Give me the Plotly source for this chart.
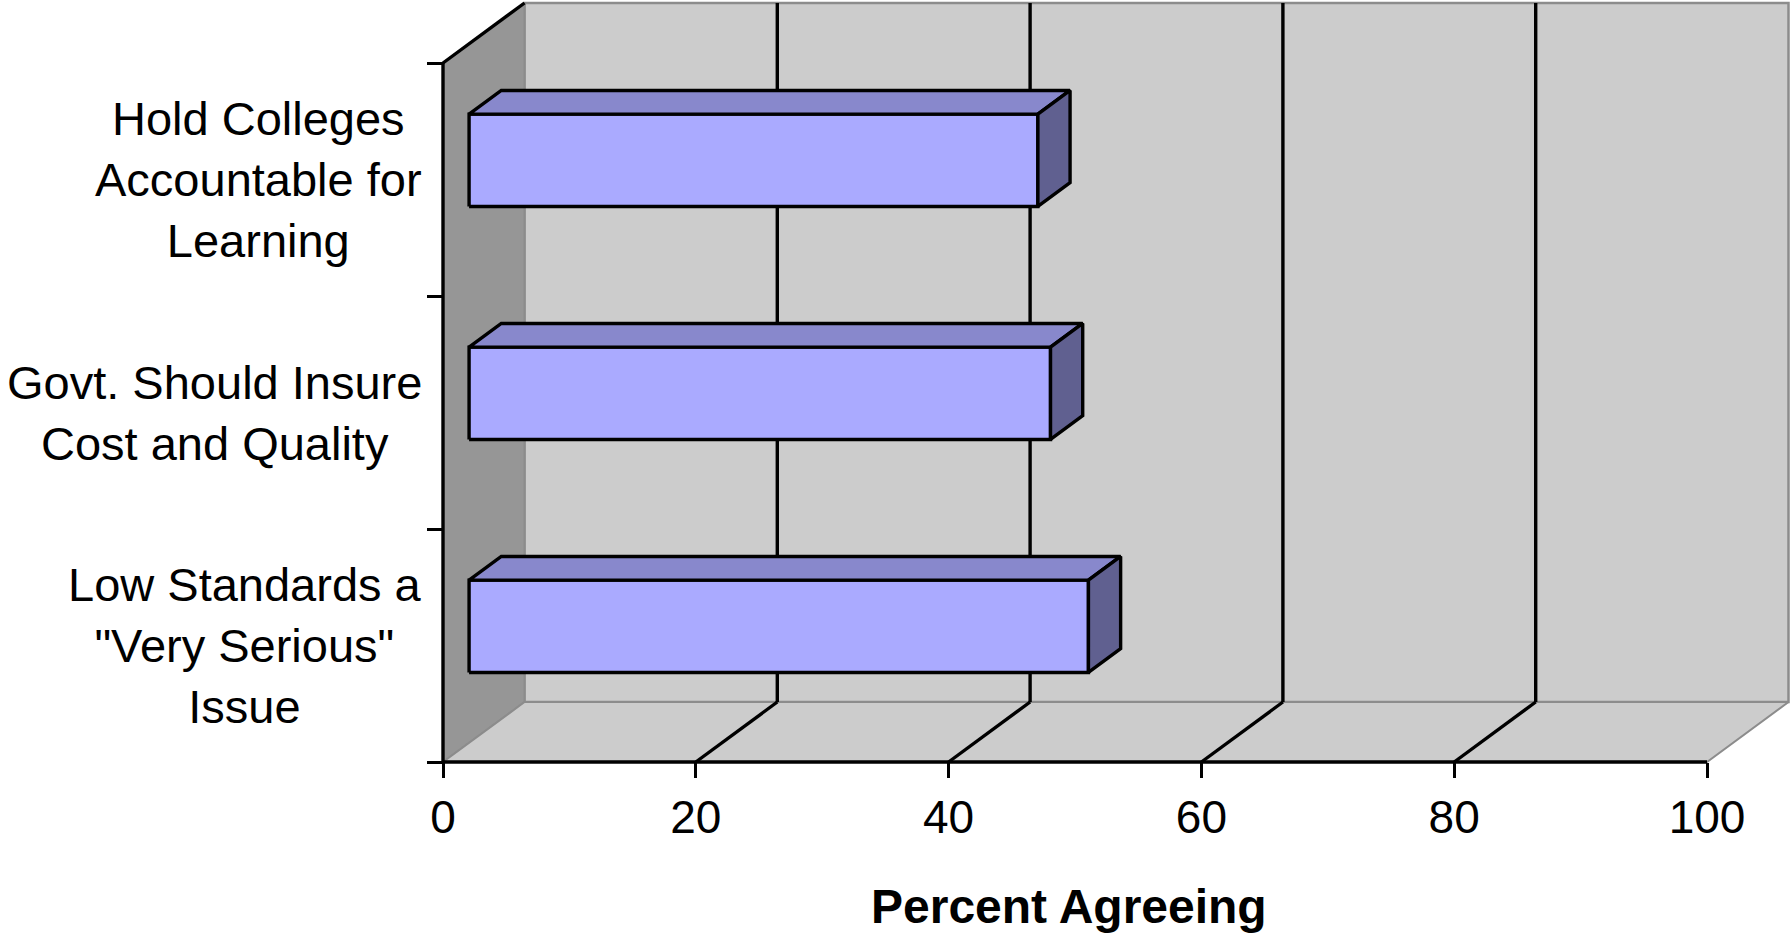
import plotly.graph_objects as go

# Survey items (bottom to top) and percent agreeing
categories = [
    "Low Standards a<br>\"Very Serious\"<br>Issue",
    "Govt. Should Insure<br>Cost and Quality",
    "Hold Colleges<br>Accountable for<br>Learning",
]
values = [49, 46, 45]
x_ticks = [0, 20, 40, 60, 80, 100]
x_title = "Percent Agreeing"

# Canvas and pseudo-3D geometry
W, H = 1791, 934
PX_PER_UNIT = 12.64          # horizontal pixels per percent
X0_PX = 443                  # pixel column of the value 0 on the front edge
FLOOR_PX = 762               # pixel row of the front floor edge
BAND_PX = 233                # pixel height of one category band
X_MAX = 100
N = len(categories)
DX = 81.5 / PX_PER_UNIT      # depth offset in x units
DY = 60 / BAND_PX            # depth offset in band units
D0, D1 = 0.32, 0.715         # front / back depth of the bars
HALF = 0.198                 # half height of a bar, in band units

FONT = "Liberation Sans, Arial, sans-serif"
WALL_EDGE = "#8c8c8c"
LW = 3.4                     # width of the black outlines

x_range = [-X0_PX / PX_PER_UNIT, (W - X0_PX) / PX_PER_UNIT]
y_range = [(FLOOR_PX - H) / BAND_PX, FLOOR_PX / BAND_PX]

fig = go.Figure()


def poly(xs, ys, fill, line_color, line_width):
    fig.add_trace(go.Scatter(
        x=list(xs) + [xs[0]], y=list(ys) + [ys[0]], mode="lines",
        fill="toself", fillcolor=fill,
        line=dict(color=line_color, width=line_width),
        hoverinfo="skip", showlegend=False,
    ))


def seg(xs, ys, color, width):
    fig.add_trace(go.Scatter(
        x=xs, y=ys, mode="lines", line=dict(color=color, width=width),
        hoverinfo="skip", showlegend=False,
    ))


# Walls and floor
poly([DX, X_MAX + DX, X_MAX + DX, DX], [DY, DY, N + DY, N + DY], "#cccccc", WALL_EDGE, 2.5)
poly([0, DX, DX, 0], [0, DY, N + DY, N], "#969696", WALL_EDGE, 2)
poly([0, X_MAX, X_MAX + DX, DX], [0, 0, DY, DY], "#cccccc", WALL_EDGE, 2)

# Gridlines on the floor and the back wall
for t in x_ticks[1:-1]:
    seg([t, t + DX], [0, DY], "black", LW)
    seg([t + DX, t + DX], [DY, N + DY], "black", LW)

# Front edges of the frame
seg([0, 0], [0, N], "black", LW)
seg([0, DX], [N, N + DY], "black", LW)
seg([0, X_MAX], [0, 0], "black", LW)

# Bars: front face, top face, side face
ddx, ddy = (D1 - D0) * DX, (D1 - D0) * DY
for i, v in enumerate(values):
    c = i + 0.5
    x0, x1 = D0 * DX, v + D0 * DX
    y0, y1 = c - HALF + D0 * DY, c + HALF + D0 * DY
    poly([x0, x1, x1, x0], [y0, y0, y1, y1], "#aaaaff", "black", LW)
    poly([x0, x1, x1 + ddx, x0 + ddx], [y1, y1, y1 + ddy, y1 + ddy], "#8888cc", "black", LW)
    poly([x1, x1 + ddx, x1 + ddx, x1], [y0, y0 + ddy, y1 + ddy, y1], "#606090", "black", LW)

# Category labels beside the left wall
for i, name in enumerate(categories):
    fig.add_annotation(
        text=name, xref="paper", x=424 / W, xanchor="right",
        yref="y", y=i + 0.5, yanchor="middle", align="center",
        showarrow=False, font=dict(family=FONT, size=47, color="black"),
    )

# Axis title
fig.add_annotation(
    text="<b>" + x_title + "</b>", xref="x", x=X_MAX / 2 - 0.5,
    yref="paper", y=(H - 906) / H, yanchor="middle", xanchor="center",
    showarrow=False, font=dict(family=FONT, size=48, color="black"),
)

fig.update_layout(
    width=W, height=H, autosize=False,
    margin=dict(l=0, r=0, t=0, b=0, pad=0),
    paper_bgcolor="white", plot_bgcolor="white",
    showlegend=False,
    xaxis=dict(
        range=x_range, anchor="free", position=(H - FLOOR_PX) / H,
        tickvals=x_ticks, ticks="outside", ticklen=15, tickwidth=LW, tickcolor="black",
        showgrid=False, zeroline=False, showline=False, fixedrange=True,
        tickfont=dict(family=FONT, size=46, color="black"),
    ),
    yaxis=dict(
        range=y_range, anchor="free", position=X0_PX / W,
        tickvals=list(range(N + 1)), ticks="outside", ticklen=16, tickwidth=LW,
        tickcolor="black", showticklabels=False,
        showgrid=False, zeroline=False, showline=False, fixedrange=True,
    ),
)

fig.write_html("out.html")
